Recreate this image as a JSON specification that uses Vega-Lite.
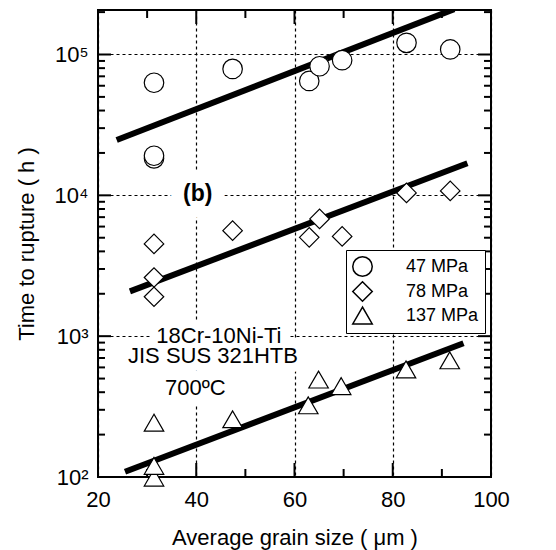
{
  "$schema": "https://vega.github.io/schema/vega-lite/v6.json",
  "width": 393,
  "height": 467,
  "autosize": {"type": "none"},
  "padding": {"left": 98, "top": 10, "right": 65, "bottom": 73},
  "background": "white",
  "config": {
    "view": {"stroke": "black", "strokeWidth": 2},
    "font": "Liberation Sans",
    "axis": {
      "domain": false,
      "labelColor": "black",
      "titleColor": "black",
      "labelFont": "Liberation Sans",
      "titleFont": "Liberation Sans",
      "labelFontSize": 22,
      "titleFontSize": 22,
      "titleFontWeight": "normal",
      "labelOverlap": false,
      "labelFlush": false,
      "labelBound": false
    }
  },
  "datasets": {
    "xMajor": [{"v": 20}, {"v": 40}, {"v": 60}, {"v": 80}, {"v": 100}],
    "xMinor": [{"v": 30}, {"v": 50}, {"v": 70}, {"v": 90}],
    "yMajor": [{"v": 100}, {"v": 1000}, {"v": 10000}, {"v": 100000}],
    "yMinor": [{"v": 200}, {"v": 300}, {"v": 400}, {"v": 500}, {"v": 600}, {"v": 700}, {"v": 800}, {"v": 900}, {"v": 2000}, {"v": 3000}, {"v": 4000}, {"v": 5000}, {"v": 6000}, {"v": 7000}, {"v": 8000}, {"v": 9000}, {"v": 20000}, {"v": 30000}, {"v": 40000}, {"v": 50000}, {"v": 60000}, {"v": 70000}, {"v": 80000}, {"v": 90000}, {"v": 200000}],
    "notes": [
      {"label": "18Cr-10Ni-Ti", "x": 44.6, "y": 1000},
      {"label": "JIS SUS 321HTB", "x": 43.4, "y": 722},
      {"label": "700ºC", "x": 39.8, "y": 428}
    ],
    "panel": [{"label": "(b)", "x": 40.3, "y": 10300}]
  },
  "resolve": {"axis": {"x": "independent", "y": "independent"}},
  "layer": [
    {
      "data": {"name": "notes"},
      "mark": {"type": "text", "fontSize": 22, "font": "Liberation Sans", "fill": "white", "stroke": "white", "strokeWidth": 18, "strokeJoin": "round", "baseline": "middle"},
      "encoding": {
        "x": {"field": "x", "type": "quantitative", "scale": {"domain": [20, 100], "nice": false, "zero": false}, "axis": null},
        "y": {"field": "y", "type": "quantitative", "scale": {"type": "log", "domain": [100, 207000], "nice": false}, "axis": null},
        "text": {"field": "label"}
      }
    },
    {
      "data": {"name": "panel"},
      "mark": {"type": "text", "fontSize": 23, "fontWeight": "bold", "font": "Liberation Sans", "fill": "white", "stroke": "white", "strokeWidth": 26, "strokeJoin": "round", "baseline": "middle"},
      "encoding": {
        "x": {"field": "x", "type": "quantitative", "axis": null},
        "y": {"field": "y", "type": "quantitative", "axis": null},
        "text": {"field": "label"}
      }
    },
    {
      "data": {"values": [
        {"stress": "47 MPa", "x": 23.8, "y": 24700},
        {"stress": "47 MPa", "x": 92.5, "y": 210000},
        {"stress": "78 MPa", "x": 26.5, "y": 2080},
        {"stress": "78 MPa", "x": 95.2, "y": 16900},
        {"stress": "137 MPa", "x": 25.5, "y": 109},
        {"stress": "137 MPa", "x": 94.4, "y": 890}
      ]},
      "mark": {"type": "line", "color": "black", "strokeWidth": 6, "clip": true},
      "encoding": {
        "x": {
          "field": "x", "type": "quantitative",
          "axis": {
            "orient": "bottom",
            "values": [20, 40, 60, 80, 100],
            "ticks": false,
            "grid": true,
            "gridDash": [3, 3],
            "gridColor": "black",
            "gridWidth": 1.2,
            "labelPadding": 12,
            "title": "Average grain size  ( μm )",
            "titleX": 196.5,
            "titleY": 60,
            "titleAlign": "center",
            "titleBaseline": "middle"
          }
        },
        "y": {
          "field": "y", "type": "quantitative",
          "axis": {
            "orient": "left",
            "values": [100, 1000, 10000, 100000],
            "labelExpr": "datum.value === 100 ? '10²' : datum.value === 1000 ? '10³' : datum.value === 10000 ? '10⁴' : '10⁵'",
            "ticks": false,
            "grid": true,
            "gridDash": [3, 3],
            "gridColor": "black",
            "gridWidth": 1.2,
            "labelPadding": 10,
            "labelBaseline": "middle",
            "title": "Time to rupture ( h )",
            "titleX": -72,
            "titleY": 233.5,
            "titleAngle": -90,
            "titleAlign": "center",
            "titleBaseline": "middle"
          }
        },
        "detail": {"field": "stress"}
      }
    },
    {
      "data": {"name": "xMajor"},
      "mark": {"type": "rule", "color": "black", "strokeWidth": 2, "strokeCap": "butt"},
      "encoding": {"x": {"field": "v", "type": "quantitative", "axis": null}, "y": {"datum": 100, "type": "quantitative", "axis": null}, "y2": {"datum": 125.7}}
    },
    {
      "data": {"name": "xMajor"},
      "mark": {"type": "rule", "color": "black", "strokeWidth": 2, "strokeCap": "butt"},
      "encoding": {"x": {"field": "v", "type": "quantitative", "axis": null}, "y": {"datum": 207000, "type": "quantitative", "axis": null}, "y2": {"datum": 164700}}
    },
    {
      "data": {"name": "xMinor"},
      "mark": {"type": "rule", "color": "black", "strokeWidth": 2, "strokeCap": "butt"},
      "encoding": {"x": {"field": "v", "type": "quantitative", "axis": null}, "y": {"datum": 100, "type": "quantitative", "axis": null}, "y2": {"datum": 114}}
    },
    {
      "data": {"name": "xMinor"},
      "mark": {"type": "rule", "color": "black", "strokeWidth": 2, "strokeCap": "butt"},
      "encoding": {"x": {"field": "v", "type": "quantitative", "axis": null}, "y": {"datum": 207000, "type": "quantitative", "axis": null}, "y2": {"datum": 181600}}
    },
    {
      "data": {"name": "yMajor"},
      "mark": {"type": "rule", "color": "black", "strokeWidth": 2, "strokeCap": "butt"},
      "encoding": {"y": {"field": "v", "type": "quantitative", "axis": null}, "x": {"datum": 20, "type": "quantitative", "axis": null}, "x2": {"datum": 22.65}}
    },
    {
      "data": {"name": "yMajor"},
      "mark": {"type": "rule", "color": "black", "strokeWidth": 2, "strokeCap": "butt"},
      "encoding": {"y": {"field": "v", "type": "quantitative", "axis": null}, "x": {"datum": 100, "type": "quantitative", "axis": null}, "x2": {"datum": 97.35}}
    },
    {
      "data": {"name": "yMinor"},
      "mark": {"type": "rule", "color": "black", "strokeWidth": 2, "strokeCap": "butt"},
      "encoding": {"y": {"field": "v", "type": "quantitative", "axis": null}, "x": {"datum": 20, "type": "quantitative", "axis": null}, "x2": {"datum": 21.42}}
    },
    {
      "data": {"name": "yMinor"},
      "mark": {"type": "rule", "color": "black", "strokeWidth": 2, "strokeCap": "butt"},
      "encoding": {"y": {"field": "v", "type": "quantitative", "axis": null}, "x": {"datum": 100, "type": "quantitative", "axis": null}, "x2": {"datum": 98.58}}
    },
    {
      "data": {"values": [
        {"stress": "47 MPa", "x": 31.4, "y": 63000},
        {"stress": "47 MPa", "x": 47.4, "y": 79000},
        {"stress": "47 MPa", "x": 63.0, "y": 64900},
        {"stress": "47 MPa", "x": 65.1, "y": 82500},
        {"stress": "47 MPa", "x": 69.7, "y": 91100},
        {"stress": "47 MPa", "x": 82.8, "y": 121000},
        {"stress": "47 MPa", "x": 91.7, "y": 108600},
        {"stress": "47 MPa", "x": 31.4, "y": 18300},
        {"stress": "47 MPa", "x": 31.4, "y": 19100},
        {"stress": "78 MPa", "x": 31.4, "y": 4520},
        {"stress": "78 MPa", "x": 31.4, "y": 2610},
        {"stress": "78 MPa", "x": 31.4, "y": 1905},
        {"stress": "78 MPa", "x": 47.4, "y": 5610},
        {"stress": "78 MPa", "x": 63.0, "y": 5030},
        {"stress": "78 MPa", "x": 65.1, "y": 6800},
        {"stress": "78 MPa", "x": 69.7, "y": 5110},
        {"stress": "78 MPa", "x": 82.8, "y": 10400},
        {"stress": "78 MPa", "x": 91.7, "y": 10750},
        {"stress": "137 MPa", "x": 31.4, "y": 243},
        {"stress": "137 MPa", "x": 31.4, "y": 99},
        {"stress": "137 MPa", "x": 31.4, "y": 120},
        {"stress": "137 MPa", "x": 47.4, "y": 257},
        {"stress": "137 MPa", "x": 62.8, "y": 323},
        {"stress": "137 MPa", "x": 64.9, "y": 492},
        {"stress": "137 MPa", "x": 69.5, "y": 442},
        {"stress": "137 MPa", "x": 82.7, "y": 580},
        {"stress": "137 MPa", "x": 91.6, "y": 674}
      ]},
      "mark": {"type": "point", "fill": "white", "fillOpacity": 1, "stroke": "black", "strokeWidth": 1.2, "size": 380, "opacity": 1},
      "encoding": {
        "x": {"field": "x", "type": "quantitative", "axis": null},
        "y": {"field": "y", "type": "quantitative", "axis": null},
        "shape": {
          "field": "stress", "type": "nominal",
          "scale": {"domain": ["47 MPa", "78 MPa", "137 MPa"], "range": ["circle", "diamond", "triangle-up"]},
          "legend": {
            "title": null,
            "orient": "none",
            "legendX": 248,
            "legendY": 240,
            "strokeColor": "black",
            "fillColor": "white",
            "padding": 6,
            "labelOffset": 33,
            "labelFontSize": 18,
            "labelFont": "Liberation Sans",
            "labelColor": "black",
            "symbolSize": 380,
            "rowPadding": -2
          }
        }
      }
    },
    {
      "data": {"name": "notes"},
      "mark": {"type": "text", "fontSize": 22, "font": "Liberation Sans", "fill": "black", "baseline": "middle"},
      "encoding": {
        "x": {"field": "x", "type": "quantitative", "axis": null},
        "y": {"field": "y", "type": "quantitative", "axis": null},
        "text": {"field": "label"}
      }
    },
    {
      "data": {"name": "panel"},
      "mark": {"type": "text", "fontSize": 23, "fontWeight": "bold", "font": "Liberation Sans", "fill": "black", "baseline": "middle"},
      "encoding": {
        "x": {"field": "x", "type": "quantitative", "axis": null},
        "y": {"field": "y", "type": "quantitative", "axis": null},
        "text": {"field": "label"}
      }
    }
  ]
}
